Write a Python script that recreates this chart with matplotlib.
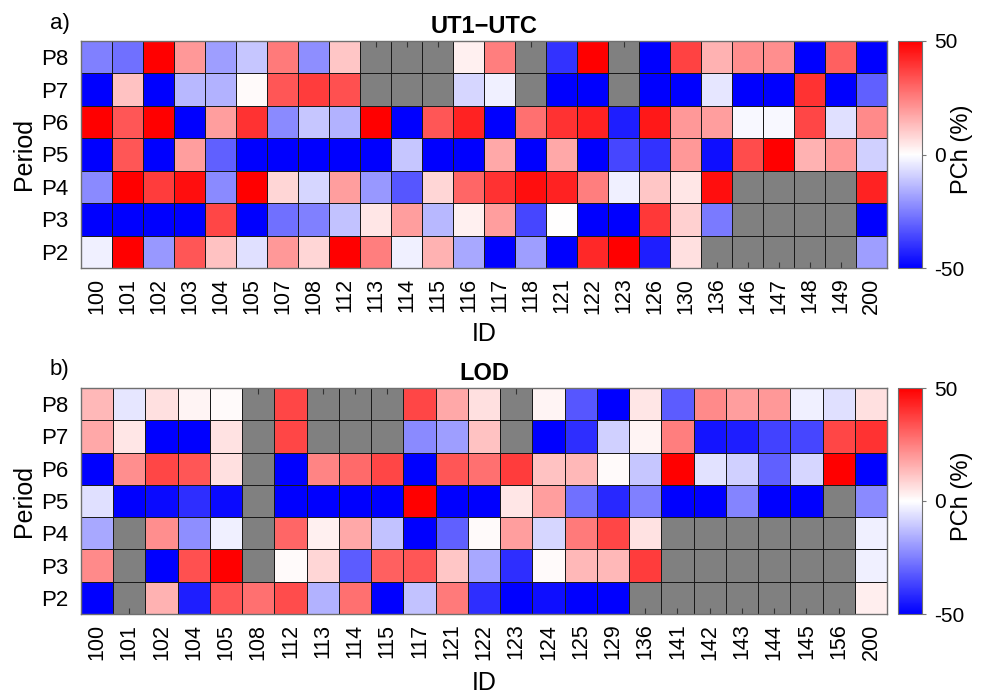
import numpy as np
import matplotlib
matplotlib.use("Agg")
import matplotlib.pyplot as plt
from matplotlib.colors import LinearSegmentedColormap

plt.rcParams['font.family'] = ['Liberation Sans', 'DejaVu Sans']
plt.rcParams['axes.unicode_minus'] = False

nan = np.nan
periods = ["P2", "P3", "P4", "P5", "P6", "P7", "P8"]

# UT1-UTC: percentage change per station ID and period
ut1_ids = ["100", "101", "102", "103", "104", "105", "107", "108", "112", "113",
           "114", "115", "116", "117", "118", "121", "122", "123", "126", "130",
           "136", "146", "147", "148", "149", "200"]
ut1_p8 = [-25, -28, 50, 20, -19, -11, 26, -22, 11, nan, nan, nan, 3, 25, nan,
          -40, 50, nan, -50, 37, 15, 22, 22, -50, 31, -50]
ut1_p7 = [-50, 12, -50, -14, -15, 1, 33, 38, 34, nan, nan, nan, -8, -3, nan,
          -50, -50, nan, -50, -50, -5, -50, -50, 40, -50, -31]
ut1_p6 = [50, 33, 50, -50, 19, 40, -23, -11, -15, 50, -50, 33, 43, -50, 28,
          40, 43, -44, 45, 20, 19, -1.5, -1.5, 36, -6, 23]
ut1_p5 = [-50, 33, -50, 19, -31, -50, -50, -50, -50, -50, -11, -50, -50, 17, -50,
          17, -50, -36, -40, 20, -47, 35, 50, 15, 20, -9]
ut1_p4 = [-23, 50, 38, 47, -23, 50, 8, -8, 19, -20, -33, 8, 30, 40, 47,
          43, 25, -3, 11, 5, 47, nan, nan, nan, nan, 43]
ut1_p3 = [-50, -50, -50, -50, 36, -50, -28, -25, -12, 5, 19, -14, 3, 19, -36,
          0, -50, -50, 39, 9, -26, nan, nan, nan, nan, -50]
ut1_p2 = [-3, 50, -20, 33, 12, -6, 20, 8, 50, 25, -3, 15, -17, -50, -19,
          -50, 42, 50, -44, 6, nan, nan, nan, nan, nan, -19]

# LOD: percentage change per station ID and period
lod_ids = ["100", "101", "102", "104", "105", "108", "112", "113", "114", "115",
           "117", "121", "122", "123", "124", "125", "129", "136", "141", "142",
           "143", "144", "145", "156", "200"]
lod_p8 = [14, -5, 6, 2, 1, nan, 36, nan, nan, nan, 36, 17, 6, nan, 2, -33, -50,
          5, -32, 23, 19, 20, -3, -6, 6]
lod_p7 = [17, 5, -50, -50, 5.5, nan, 36, nan, nan, nan, -23, -19, 12, nan, -50,
          -41, -9, 2, 25, -46, -44, -37, -36, 36, 40]
lod_p6 = [-50, 22, 36, 33, 6, nan, -50, 24, 29, 36, -50, 33, 28, 38, 12, 14, 1,
          -11, 50, -5.5, -9, -31, -8, 50, -50]
lod_p5 = [-6, -50, -48, -41, -48, nan, -50, -50, -50, -50, 50, -50, -50, 5, 19,
          -28, -42, -25, -50, -50, -24, -50, -50, nan, -23]
lod_p4 = [-17, nan, 22, -22, -3, nan, 30, 3, 17, -12, -50, -31, 1, 19, -8, 26,
          36, 5.5, nan, nan, nan, nan, nan, nan, -3]
lod_p3 = [23, nan, -50, 34, 50, nan, 1, 8, -32, 31, 33, 11, -17, -41, 1, 14, 14,
          38, nan, nan, nan, nan, nan, nan, -3]
lod_p2 = [-50, nan, 15, -44, 33, 28, 35, -15, 28, -50, -12, 26, -41, -50, -47,
          -50, -50, nan, nan, nan, nan, nan, nan, nan, 3.5]

bwr = LinearSegmentedColormap.from_list("bwr_pch", ["#0000ff", "#ffffff", "#ff0000"])
bwr.set_bad((0, 0, 0, 0))

fig = plt.figure(figsize=(9.84, 6.95), dpi=100)
W, H = 984, 695


def px_axes(x0, y0, x1, y1):
    return fig.add_axes([x0 / W, 1 - y1 / H, (x1 - x0) / W, (y1 - y0) / H])


def draw_panel(box, cbox, ids, rows, title, tag, id_y):
    ax = px_axes(*box)
    cax = px_axes(*cbox)
    z = np.ma.masked_invalid(np.array(rows, dtype=float))
    n = len(ids)
    ax.set_facecolor("#808080")
    ax.set_axisbelow(True)
    mesh = ax.pcolormesh(np.arange(n + 1), np.arange(len(periods) + 1), z,
                         cmap=bwr, vmin=-50, vmax=50, edgecolors="#1a1a1a",
                         linewidth=0.7)
    ax.set_xlim(0, n)
    ax.set_ylim(0, len(periods))
    ax.set_xticks(np.arange(n) + 0.5)
    ax.set_xticklabels(ids, rotation=90, fontsize=15.5)
    ax.set_yticks(np.arange(len(periods)) + 0.5)
    ax.set_yticklabels(periods, fontsize=16)
    ax.tick_params(axis="x", direction="in", top=True, bottom=True, length=4,
                   color="#333333", pad=7)
    ax.tick_params(axis="y", direction="in", left=True, right=True, length=4,
                   color="#333333", pad=9)
    for s in ax.spines.values():
        s.set_color("#707070")
        s.set_linewidth(1.0)
    ax.set_title(title, fontsize=17, fontweight="bold", pad=6)

    x0, y0, x1, y1 = box
    fig.text(50 / W, 1 - (y0 - 18) / H, tag, fontsize=16,
             ha="left", va="center")
    fig.text(24 / W, 1 - (y0 + y1) / 2 / H, "Period", fontsize=18,
             rotation=90, ha="center", va="center")
    fig.text((x0 + x1) / 2 / W, 1 - id_y / H, "ID", fontsize=18,
             ha="center", va="center")

    cb = fig.colorbar(mesh, cax=cax, ticks=[-50, 0, 50])
    cb.outline.set_edgecolor("#707070")
    cb.ax.tick_params(labelsize=15, direction="out", length=3, color="#777777",
                      pad=6)
    fig.text(962 / W, 1 - ((y0 + y1) / 2 - 5) / H, "PCh (%)", fontsize=17,
             rotation=90, ha="center", va="center")


draw_panel((81, 41, 887, 268), (898, 41, 922, 268), ut1_ids,
           [ut1_p2, ut1_p3, ut1_p4, ut1_p5, ut1_p6, ut1_p7, ut1_p8],
           "UT1\u2212UTC", "a)", 334)

draw_panel((81, 388, 887, 614), (898, 388, 922, 614), lod_ids,
           [lod_p2, lod_p3, lod_p4, lod_p5, lod_p6, lod_p7, lod_p8],
           "LOD", "b)", 683)

fig.savefig("out.png", dpi=100)
